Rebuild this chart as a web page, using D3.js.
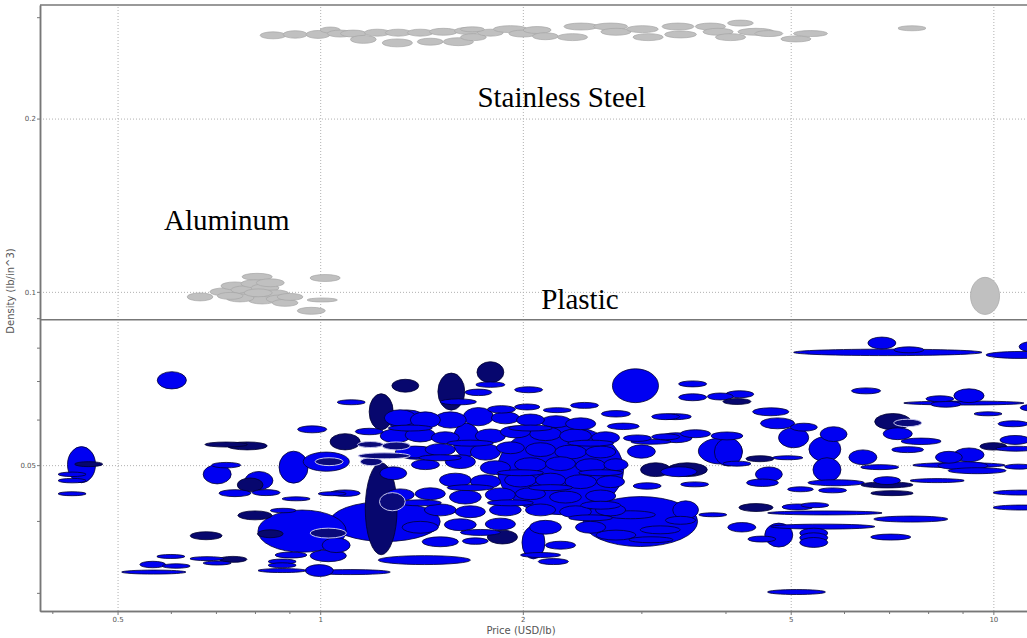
<!DOCTYPE html>
<html lang="en">
<head>
<meta charset="UTF-8">
<title>Density vs Price</title>
<script src="https://d3js.org/d3.v7.min.js"></script>
<style>
  body { margin: 0; background: #fff; }
  .axis .tick text { font-family: "DejaVu Sans", sans-serif; font-size: 7px; fill: #555; }
  .axis path, .axis line { stroke: #777; }
  .axis path { stroke-width: 1.5; }
  .grid line { stroke: #b0b0b0; stroke-dasharray: 1,2; }
  .grid path { display: none; }
  .label { font-family: "Liberation Serif", serif; font-size: 29px; fill: #000; }
  .title { font-family: "DejaVu Sans", sans-serif; font-size: 10px; fill: #555; }
</style>
</head>
<body>
<svg id="chart" width="1027" height="638"></svg>
<script>
// axis ticks
const xMajor = [0.5, 1, 2, 5, 10];
const xMinor = [0.4, 0.6, 0.7, 0.8, 0.9, 3, 4, 6, 7, 8, 9];
const yMajor = [0.05, 0.1, 0.2];
const yMinor = [0.03, 0.04, 0.06, 0.07, 0.08, 0.09, 0.3];
const xDomain = [0.3835, 11.22];
const yDomain = [0.0279, 0.315];
const separatorDensity = 0.0894;

// [price, density, price spread factor, density spread factor]
const stainlessSteel = [
  [0.851,0.279,1.045,1.014],[0.918,0.280,1.042,1.015],[0.993,0.280,1.042,1.016],[1.035,0.285,1.035,1.012],
  [1.071,0.281,1.045,1.014],[1.120,0.281,1.045,1.014],[1.159,0.2745,1.045,1.016],[1.302,0.2707,1.053,1.016],
  [1.457,0.272,1.045,1.014],[1.604,0.272,1.053,1.016],[1.216,0.282,1.045,1.014],[1.306,0.282,1.045,1.014],
  [1.408,0.282,1.045,1.014],[1.524,0.283,1.049,1.014],[1.654,0.284,1.045,1.014],[1.689,0.277,1.045,1.014],
  [1.790,0.282,1.045,1.014],[1.917,0.286,1.060,1.014],[2.00,0.281,1.049,1.014],[2.10,0.285,1.049,1.014],
  [2.16,0.278,1.045,1.014],[2.37,0.277,1.053,1.014],[2.44,0.289,1.060,1.014],[2.70,0.289,1.060,1.014],
  [2.75,0.283,1.053,1.014],[3.01,0.286,1.056,1.014],[3.07,0.277,1.053,1.014],[3.40,0.289,1.056,1.014],
  [3.43,0.280,1.056,1.014],[3.80,0.289,1.053,1.014],[3.90,0.283,1.053,1.014],[4.07,0.277,1.053,1.014],
  [4.21,0.293,1.045,1.012],[4.44,0.283,1.064,1.014],[4.64,0.281,1.049,1.012],[5.09,0.275,1.053,1.012],
  [5.35,0.281,1.060,1.012],[7.57,0.287,1.049,1.010],[1.683,0.2858,1.042,1.010]
];

const aluminum = [
  [0.663,0.0980,1.045,1.016],[0.806,0.1062,1.053,1.014],[1.017,0.1057,1.053,1.014],[1.007,0.0968,1.053,1.008],
  [0.970,0.0927,1.049,1.014],[0.722,0.1000,1.053,1.016],[0.747,0.1024,1.049,1.016],[0.773,0.1008,1.049,1.016],
  [0.800,0.1033,1.049,1.016],[0.828,0.1016,1.049,1.016],[0.787,0.0984,1.049,1.016],[0.820,0.0968,1.049,1.016],
  [0.857,0.0992,1.049,1.016],[0.872,0.0972,1.049,1.016],[0.843,0.1037,1.049,1.016],[0.760,0.0976,1.049,1.016],
  [0.887,0.0957,1.045,1.014],[0.902,0.0980,1.045,1.014],[0.809,0.0996,1.049,1.016],[0.735,0.0984,1.045,1.014]
];

const otherMetal = [[9.72,0.0984,1.051,1.077]];

const plasticBlue = [
  [0.602,0.0702,1.051,1.035],[0.442,0.0501,1.049,1.075],[0.428,0.0482,1.049,1.009],[0.428,0.0470,1.049,1.009],
  [0.428,0.0446,1.049,1.008],[0.703,0.0482,1.049,1.039],[0.725,0.0500,1.051,1.011],[0.811,0.0470,1.049,1.037],
  [0.747,0.0447,1.056,1.014],[0.831,0.0448,1.049,1.012],[0.973,0.0577,1.051,1.014],[0.913,0.0496,1.051,1.066],
  [1.021,0.0507,1.082,1.039],[0.921,0.0437,1.049,1.008],[1.042,0.0446,1.049,1.008],[1.112,0.0643,1.049,1.010],
  [0.881,0.0417,1.045,1.009],[0.940,0.0384,1.163,1.088],[0.905,0.0349,1.056,1.012],[1.028,0.0348,1.064,1.024],
  [0.878,0.0340,1.049,1.010],[0.878,0.0335,1.049,1.010],[0.878,0.0328,1.086,1.008],[0.997,0.0328,1.049,1.024],
  [0.600,0.0347,1.049,1.008],[0.564,0.0336,1.045,1.013],[0.611,0.0334,1.049,1.009],[0.566,0.0326,1.116,1.008],
  [0.679,0.0344,1.060,1.008],[0.703,0.0338,1.049,1.008],[1.056,0.0363,1.049,1.030],[1.108,0.0326,1.147,1.010],
  [1.790,0.0690,1.051,1.011],[2.94,0.0687,1.082,1.070],[1.718,0.0669,1.047,1.013],[2.04,0.0676,1.049,1.012],
  [1.604,0.0644,1.064,1.012],[1.859,0.0625,1.049,1.015],[2.03,0.0631,1.044,1.012],[2.25,0.0623,1.049,1.010],
  [2.47,0.0635,1.049,1.012],[2.75,0.0614,1.051,1.013],[3.26,0.0607,1.049,1.012],[2.82,0.0584,1.056,1.013],
  [2.96,0.0557,1.049,1.013],[3.00,0.0528,1.049,1.027],[3.26,0.0560,1.049,1.012],[3.06,0.0460,1.049,1.013],
  [1.183,0.0572,1.049,1.013],[1.089,0.0447,1.053,1.013],[1.700,0.0369,1.045,1.013],[2.22,0.0340,1.053,1.012],
  [1.428,0.0342,1.171,1.018],[1.249,0.0399,1.207,1.083],[2.074,0.0367,1.040,1.068],[2.275,0.0491,1.241,1.197],
  [2.99,0.0399,1.216,1.105],[3.10,0.0549,1.071,1.010],
  [1.347,0.0599,1.071,1.041],[1.649,0.0553,1.047,1.070],[1.284,0.0484,1.047,1.026],[1.394,0.0525,1.071,1.026],
  [1.315,0.0604,1.056,1.033],[1.433,0.0599,1.053,1.033],[1.561,0.0599,1.056,1.033],[1.718,0.0607,1.053,1.037],
  [1.884,0.0604,1.049,1.024],[2.053,0.0599,1.049,1.024],[2.24,0.0595,1.053,1.024],[2.437,0.0590,1.053,1.024],
  [1.293,0.0562,1.053,1.028],[1.408,0.0564,1.053,1.028],[1.534,0.0558,1.049,1.024],[1.790,0.0562,1.053,1.028],
  [1.950,0.0571,1.053,1.024],[2.161,0.0567,1.056,1.028],[2.395,0.0562,1.056,1.028],[2.654,0.0558,1.049,1.024],
  [1.384,0.0527,1.071,1.024],[1.508,0.0532,1.053,1.024],[1.760,0.0527,1.053,1.033],[1.917,0.0536,1.049,1.024],
  [2.125,0.0532,1.053,1.028],[2.355,0.0527,1.056,1.028],[2.61,0.0527,1.053,1.024],
  [1.433,0.0501,1.049,1.020],[1.615,0.0507,1.053,1.028],[1.821,0.0495,1.053,1.028],[2.053,0.0501,1.056,1.028],
  [2.275,0.0503,1.053,1.028],[2.522,0.0499,1.053,1.028],[2.75,0.0501,1.042,1.024],
  [1.588,0.0471,1.056,1.028],[1.760,0.0468,1.053,1.028],[1.984,0.0471,1.056,1.028],[2.199,0.0471,1.053,1.028],
  [2.437,0.0468,1.056,1.028],[2.70,0.0468,1.049,1.024],
  [1.315,0.0444,1.049,1.024],[1.457,0.0446,1.053,1.024],[1.643,0.0440,1.056,1.028],[1.852,0.0444,1.053,1.028],
  [2.053,0.0446,1.053,1.024],[2.314,0.0440,1.056,1.024],[2.61,0.0442,1.053,1.024],
  [1.508,0.0418,1.056,1.024],[1.671,0.0415,1.053,1.024],[1.884,0.0418,1.056,1.024],[2.125,0.0418,1.053,1.024],
  [2.395,0.0415,1.056,1.024],[2.70,0.0418,1.053,1.024],
  [1.408,0.0390,1.064,1.024],[1.615,0.0394,1.056,1.024],[1.852,0.0395,1.053,1.024],[2.161,0.0390,1.056,1.028],
  [2.522,0.0390,1.053,1.024],[1.508,0.0368,1.064,1.020],[2.275,0.0363,1.053,1.016],
  [1.361,0.0580,1.078,1.012],[1.671,0.0546,1.082,1.012],[2.053,0.0580,1.078,1.012],[2.522,0.0546,1.082,1.012],
  [1.508,0.0515,1.075,1.012],[1.984,0.0485,1.082,1.012],[2.61,0.0485,1.078,1.012],[1.671,0.0457,1.082,1.012],
  [2.199,0.0457,1.078,1.012],[1.408,0.0430,1.075,1.012],[1.917,0.0430,1.082,1.012],[2.522,0.0405,1.078,1.012],
  [1.730,0.0382,1.071,1.012],[2.125,0.0349,1.071,1.010],
  [2.61,0.0426,1.071,1.016],[2.89,0.0410,1.089,1.016],[3.20,0.0386,1.071,1.016],[2.75,0.0378,1.071,1.020],
  [3.43,0.0401,1.053,1.016],[3.10,0.0371,1.078,1.012],
  [6.97,0.0785,1.380,1.013],[6.83,0.0815,1.049,1.024],[7.49,0.0793,1.053,1.012],[10.99,0.0777,1.127,1.014],
  [11.38,0.0803,1.042,1.020],[3.575,0.0692,1.049,1.012],[3.575,0.0656,1.049,1.014],[3.93,0.0658,1.045,1.014],
  [4.20,0.0664,1.049,1.014],[4.67,0.0619,1.064,1.016],[6.47,0.0673,1.051,1.012],[9.20,0.0660,1.053,1.028],
  [8.33,0.0652,1.049,1.012],[9.04,0.0641,1.228,1.008],[8.50,0.0638,1.053,1.012],[9.82,0.0614,1.049,1.008],
  [11.5,0.0629,1.049,1.014],[7.21,0.0567,1.051,1.024],[7.81,0.0550,1.071,1.013],[7.46,0.0532,1.056,1.012],
  [10.7,0.0590,1.053,1.012],[10.77,0.0553,1.053,1.018],[10.8,0.0534,1.071,1.010],[9.20,0.0521,1.053,1.028],
  [8.59,0.0516,1.047,1.024],[9.01,0.0499,1.089,1.016],[8.89,0.0500,1.171,1.010],[9.46,0.0489,1.104,1.012],
  [10.9,0.0497,1.049,1.010],[6.78,0.0496,1.067,1.010],[6.40,0.0516,1.049,1.030],[8.25,0.0470,1.097,1.008],
  [6.95,0.0470,1.047,1.016],[11.0,0.0448,1.101,1.010],[11.0,0.0422,1.101,1.010],[7.54,0.0403,1.135,1.012],
  [7.04,0.0375,1.071,1.012],[5.10,0.0301,1.104,1.010],[5.41,0.0381,1.049,1.020],[5.41,0.0374,1.049,1.020],
  [5.41,0.0367,1.049,1.020],[4.80,0.0378,1.049,1.049],[4.53,0.0372,1.049,1.012],[4.23,0.0390,1.049,1.019],
  [5.58,0.0391,1.195,1.010],[5.62,0.0413,1.216,1.008],[5.12,0.0423,1.055,1.012],[5.43,0.0426,1.049,1.010],
  [3.83,0.0410,1.049,1.008],[3.49,0.0418,1.045,1.037],[4.64,0.0482,1.047,1.030],[4.54,0.0466,1.056,1.015],
  [5.17,0.0454,1.045,1.010],[5.77,0.0452,1.049,1.010],[5.84,0.0466,1.101,1.012],[5.66,0.0491,1.049,1.049],
  [5.62,0.0533,1.056,1.051],[5.79,0.0566,1.047,1.030],[5.23,0.0582,1.047,1.016],[4.78,0.0591,1.060,1.022],
  [5.05,0.0558,1.053,1.041],[4.95,0.0515,1.053,1.008],[3.93,0.0529,1.078,1.053],[4.04,0.0527,1.049,1.058],
  [3.60,0.0463,1.049,1.010],[4.16,0.0503,1.049,1.010],[3.38,0.0558,1.056,1.020],[3.61,0.0567,1.053,1.016],
  [4.02,0.0562,1.056,1.016],[3.41,0.0487,1.064,1.020],[3.37,0.0607,1.056,1.012]
];

const plasticNavy = [
  [0.453,0.0502,1.049,1.010],[0.725,0.0543,1.075,1.010],[0.779,0.0540,1.071,1.016],[0.787,0.0462,1.045,1.028],
  [0.800,0.0409,1.060,1.018],[0.843,0.0380,1.045,1.016],[0.677,0.0377,1.056,1.016],[0.742,0.0343,1.049,1.012],
  [1.089,0.0549,1.053,1.033],[1.790,0.0725,1.047,1.043],[1.338,0.0687,1.047,1.026],[1.566,0.0671,1.047,1.077],
  [1.232,0.0619,1.042,1.075],[1.232,0.0420,1.056,1.202],[1.865,0.0375,1.053,1.028],[3.15,0.0491,1.053,1.028],
  [4.16,0.0645,1.049,1.012],[7.09,0.0595,1.064,1.033],[10.0,0.0539,1.047,1.015],[6.95,0.0462,1.093,1.012],
  [7.07,0.0447,1.075,1.010],[4.44,0.0422,1.060,1.016],[4.50,0.0513,1.049,1.012],[3.51,0.0491,1.071,1.028]
];

const plasticOutlined = [
  [1.031,0.0507,1.049,1.016],[1.028,0.0381,1.064,1.020],[1.187,0.0543,1.045,1.012],[1.297,0.0540,1.049,1.016],
  [1.191,0.0507,1.038,1.016],[1.245,0.0519,1.093,1.012],[1.280,0.0432,1.045,1.037],[7.46,0.0592,1.049,1.015]
];

const labels = [
  { text: "Stainless Steel", price: 1.712, density: 0.2096 },
  { text: "Aluminum", price: 0.586, density: 0.1281 },
  { text: "Plastic", price: 2.13, density: 0.0934 }
];

const svg = d3.select("#chart");
const x = d3.scaleLog().domain(xDomain).range([40, 1027]);
const y = d3.scaleLog().domain(yDomain).range([611, 5]);
const plotH = y.range()[0] - y.range()[1];

// gridlines
svg.append("g").attr("class", "grid")
  .attr("transform", `translate(0,${y.range()[0]})`)
  .call(d3.axisBottom(x).tickValues(xMajor).tickSize(-plotH).tickFormat(""));
svg.append("g").attr("class", "grid")
  .attr("transform", `translate(${x.range()[0]},0)`)
  .call(d3.axisLeft(y).tickValues(yMajor).tickSize(-(x.range()[1] - x.range()[0])).tickFormat(""));

const plot = svg.append("g");

function drawEllipses(data, fill, stroke, width) {
  plot.append("g").selectAll("ellipse")
    .data(data)
    .join("ellipse")
    .attr("cx", d => x(d[0]))
    .attr("cy", d => y(d[1]))
    .attr("rx", d => (x(d[0] * d[2]) - x(d[0] / d[2])) / 2)
    .attr("ry", d => (y(d[1] / d[3]) - y(d[1] * d[3])) / 2)
    .attr("fill", d => d.color || fill)
    .attr("stroke", stroke)
    .attr("stroke-width", width);
}

// metals
drawEllipses(stainlessSteel, "#c0c0c0", "#a6a6a6", 0.7);
drawEllipses(aluminum, "#c0c0c0", "#a6a6a6", 0.7);
drawEllipses(otherMetal, "#c0c0c0", "#a6a6a6", 0.7);

// plastics: big ones first so small ones stay visible
const area = d => Math.log(d[2]) * Math.log(d[3]);
const plastics = plasticBlue.map(d => Object.assign([...d], { color: "#0000f2" }))
  .concat(plasticNavy.map(d => Object.assign([...d], { color: "#07076e" })))
  .sort((a, b) => area(b) - area(a));
drawEllipses(plastics, "#0000f2", "#000030", 0.8);
drawEllipses(plasticOutlined, "#0a0a7a", "#c8c8ee", 1);

// separator and frame lines
svg.append("line")
  .attr("x1", x.range()[0]).attr("x2", x.range()[1])
  .attr("y1", y(separatorDensity)).attr("y2", y(separatorDensity))
  .attr("stroke", "#777").attr("stroke-width", 1.5);
svg.append("line")
  .attr("x1", x.range()[0]).attr("x2", x.range()[1])
  .attr("y1", y.range()[1]).attr("y2", y.range()[1])
  .attr("stroke", "#777").attr("stroke-width", 1.5);

// axes
svg.append("g").attr("class", "axis")
  .attr("transform", `translate(0,${y.range()[0]})`)
  .call(d3.axisBottom(x).tickValues(xMinor).tickSize(3).tickSizeOuter(0).tickFormat(""));
svg.append("g").attr("class", "axis")
  .attr("transform", `translate(0,${y.range()[0]})`)
  .call(d3.axisBottom(x).tickValues(xMajor).tickSize(4).tickPadding(2).tickSizeOuter(0).tickFormat(d3.format("")));
svg.append("g").attr("class", "axis")
  .attr("transform", `translate(${x.range()[0]},0)`)
  .call(d3.axisLeft(y).tickValues(yMinor).tickSize(3).tickSizeOuter(0).tickFormat(""));
svg.append("g").attr("class", "axis")
  .attr("transform", `translate(${x.range()[0]},0)`)
  .call(d3.axisLeft(y).tickValues(yMajor).tickSize(3).tickPadding(1).tickSizeOuter(0).tickFormat(d3.format("")));

// axis titles
svg.append("text").attr("class", "title")
  .attr("x", 521).attr("y", 634)
  .attr("text-anchor", "middle")
  .text("Price (USD/lb)");
svg.append("text").attr("class", "title")
  .attr("transform", "translate(14,291) rotate(-90)")
  .attr("text-anchor", "middle")
  .text("Density (lb/in^3)");

// material labels
svg.selectAll(".label")
  .data(labels)
  .join("text")
  .attr("class", "label")
  .attr("x", d => x(d.price))
  .attr("y", d => y(d.density))
  .text(d => d.text);
</script>
</body>
</html>
